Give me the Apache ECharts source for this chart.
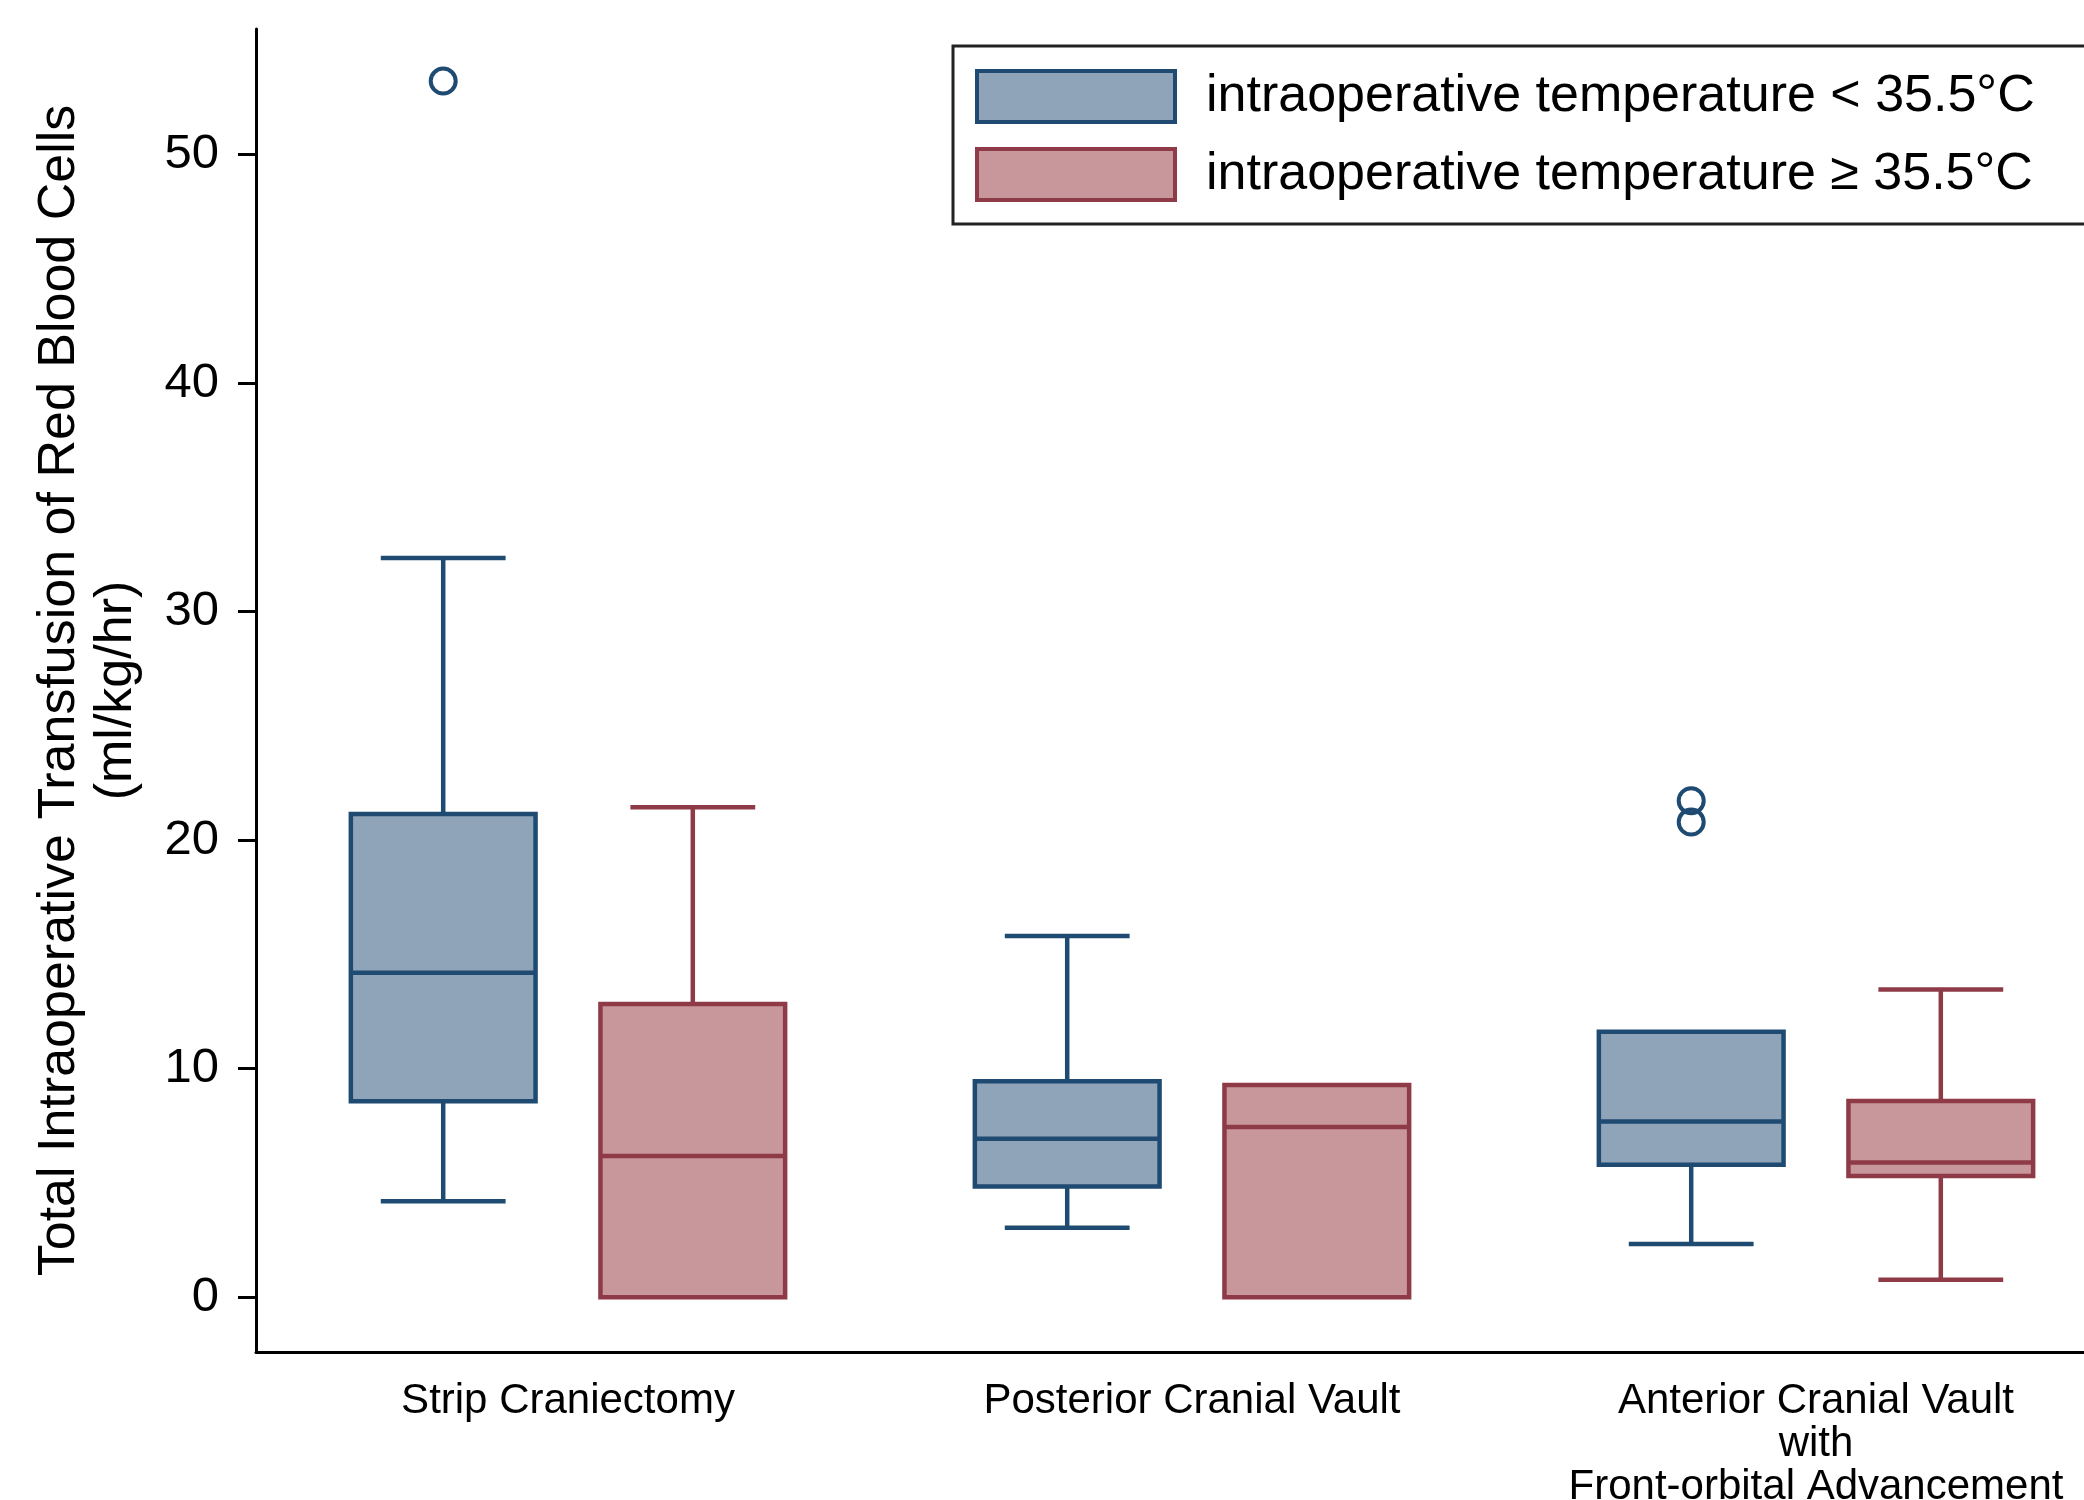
<!DOCTYPE html>
<html>
<head>
<meta charset="utf-8">
<script src="https://cdn.jsdelivr.net/npm/echarts@6/dist/echarts.min.js"></script>
<style>html,body{margin:0;padding:0;background:#fff;overflow:hidden;}#chart{width:2084px;height:1500px;}</style>
</head>
<body>
<div id="chart"></div>
<script>
const categories = ['Strip Craniectomy', 'Posterior Cranial Vault', 'Anterior Cranial Vault\nwith\nFront-orbital Advancement'];
const seriesNames = ['intraoperative temperature < 35.5°C', 'intraoperative temperature \u2265 35.5°C'];
// [lower whisker, Q1, median, Q3, upper whisker] per category
const coldBoxes = [
  [4.2, 8.57, 14.2, 21.15, 32.35],
  [3.04, 4.84, 6.93, 9.45, 15.81],
  [2.33, 5.80, 7.69, 11.62, 11.62]
];
const warmBoxes = [
  [0, 0, 6.18, 12.83, 21.44],
  [0, 0, 7.45, 9.28, 9.28],
  [0.76, 5.30, 5.89, 8.59, 13.46]
];
// [category index, value]
const coldOutliers = [[0, 53.22], [2, 21.73], [2, 20.79]];
const warmOutliers = [];
const yTicks = [0, 10, 20, 30, 40, 50];

const FONT = 'Liberation Sans, Arial, sans-serif';
const blueFill = '#8FA3B9', blueStroke = '#1F4A72';
const redFill = '#C8979B', redStroke = '#8E3A47';

function boxRender(offsetFrac, widthFrac, capFrac, fill, stroke) {
  return function (params, api) {
    const cat = api.value(0);
    const band = api.size([1, 0])[0];
    const cx = api.coord([cat, 0])[0] + offsetFrac * band;
    const y = i => api.coord([cat, api.value(i)])[1];
    const yLow = y(1), yQ1 = y(2), yMed = y(3), yQ3 = y(4), yHigh = y(5);
    const hw = widthFrac * band / 2, cw = capFrac * band / 2;
    const ls = { stroke: stroke, lineWidth: 4.5, fill: null };
    const ch = [];
    if (yQ3 - yHigh > 0.5) {
      ch.push({ type: 'line', shape: { x1: cx, y1: yQ3, x2: cx, y2: yHigh }, style: ls });
      ch.push({ type: 'line', shape: { x1: cx - cw, y1: yHigh, x2: cx + cw, y2: yHigh }, style: ls });
    }
    if (yLow - yQ1 > 0.5) {
      ch.push({ type: 'line', shape: { x1: cx, y1: yQ1, x2: cx, y2: yLow }, style: ls });
      ch.push({ type: 'line', shape: { x1: cx - cw, y1: yLow, x2: cx + cw, y2: yLow }, style: ls });
    }
    ch.push({ type: 'rect', shape: { x: cx - hw, y: yQ3, width: 2 * hw, height: yQ1 - yQ3 },
      style: { fill: fill, stroke: stroke, lineWidth: 4.5 } });
    ch.push({ type: 'line', shape: { x1: cx - hw, y1: yMed, x2: cx + hw, y2: yMed }, style: ls });
    return { type: 'group', children: ch };
  };
}
function outlierRender(offsetFrac, stroke) {
  return function (params, api) {
    const cat = api.value(0);
    const band = api.size([1, 0])[0];
    const p = api.coord([cat, api.value(1)]);
    return { type: 'circle', shape: { cx: p[0] + offsetFrac * band, cy: p[1], r: 12.5 },
      style: { fill: null, stroke: stroke, lineWidth: 4 } };
  };
}

const chart = echarts.init(document.getElementById('chart'), null, { renderer: 'canvas' });
chart.setOption({
  backgroundColor: '#fff',
  animation: false,
  textStyle: { fontFamily: FONT },
  grid: { left: 256, top: 29, bottom: 148, right: -44, containLabel: false, outerBoundsMode: 'none' },
  legend: {
    orient: 'vertical', left: 953, top: 46,
    padding: [23, 90, 22, 22],
    itemWidth: 198, itemHeight: 51, itemGap: 23,
    borderColor: '#222', borderWidth: 3,
    icon: 'rect',
    textStyle: { fontSize: 52, color: '#000', fontFamily: FONT, padding: [4, 0, 0, 26] },
    data: [
      { name: seriesNames[0], itemStyle: { color: blueFill, borderColor: blueStroke, borderWidth: 4 } },
      { name: seriesNames[1], itemStyle: { color: redFill, borderColor: redStroke, borderWidth: 4 } }
    ]
  },
  xAxis: {
    type: 'category', data: categories, boundaryGap: true,
    axisLine: { onZero: false, lineStyle: { color: '#000', width: 3 } },
    axisTick: { show: false },
    axisLabel: { fontSize: 42, lineHeight: 43, color: '#000', margin: 28, fontFamily: FONT, interval: 0 }
  },
  yAxis: {
    type: 'value', min: -2.4, max: 55.5,
    name: 'Total Intraoperative Transfusion of Red Blood Cells\n(ml/kg/hr)',
    nameLocation: 'middle', nameGap: 111, nameRotate: 90,
    nameTextStyle: { fontSize: 52, lineHeight: 57, color: '#000', fontFamily: FONT, align: 'center' },
    splitLine: { show: false },
    axisLine: { show: true, lineStyle: { color: '#000', width: 3 } },
    axisTick: { show: true, length: 18, lineStyle: { color: '#000', width: 3 }, customValues: yTicks },
    axisLabel: { fontSize: 49, color: '#000', margin: 37, fontFamily: FONT, customValues: yTicks }
  },
  series: [
    { name: seriesNames[0], type: 'custom', renderItem: boxRender(-0.2, 0.296, 0.2, blueFill, blueStroke),
      itemStyle: { color: blueFill, borderColor: blueStroke, borderWidth: 4 },
      encode: { x: 0, y: [1, 2, 3, 4, 5] },
      data: coldBoxes.map((b, i) => [i].concat(b)) },
    { name: seriesNames[1], type: 'custom', renderItem: boxRender(0.2, 0.296, 0.2, redFill, redStroke),
      itemStyle: { color: redFill, borderColor: redStroke, borderWidth: 4 },
      encode: { x: 0, y: [1, 2, 3, 4, 5] },
      data: warmBoxes.map((b, i) => [i].concat(b)) },
    { name: 'cold outliers', type: 'custom', renderItem: outlierRender(-0.2, blueStroke),
      encode: { x: 0, y: 1 }, data: coldOutliers },
    { name: 'warm outliers', type: 'custom', renderItem: outlierRender(0.2, redStroke),
      encode: { x: 0, y: 1 }, data: warmOutliers }
  ]
});
</script>
</body>
</html>
